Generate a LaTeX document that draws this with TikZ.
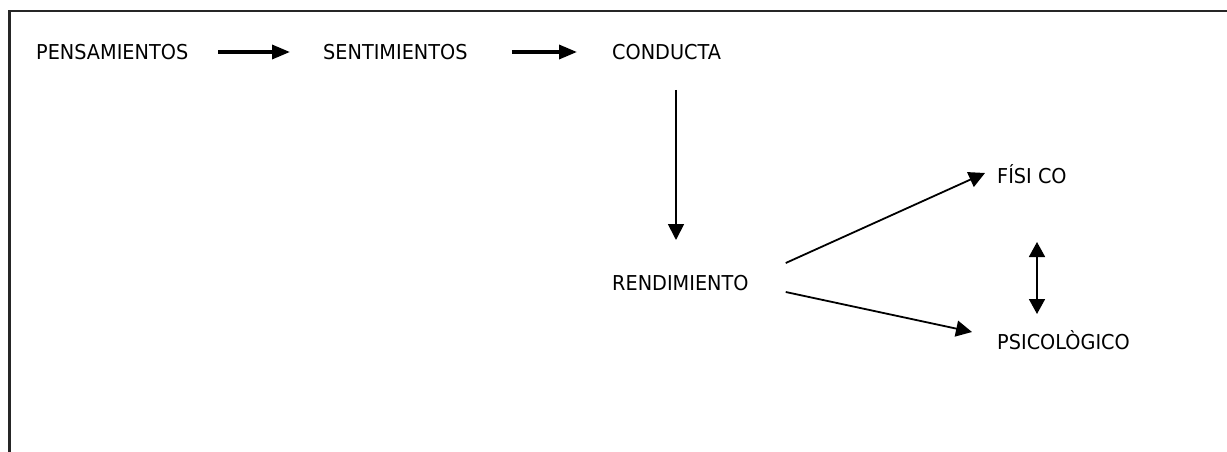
\documentclass[tikz,border=0pt]{standalone}
\usepackage{fontspec}
\setmainfont{DejaVu Sans}[FakeStretch=0.94]
\usetikzlibrary{arrows.meta}

\begin{document}
\begin{tikzpicture}[x=1pt,y=-1pt,
    concept/.style={anchor=base west, inner sep=0pt, font=\fontsize{20.5}{24}\selectfont},
    bigarrow/.style={line width=3.4pt, -{Triangle[length=18pt,width=14pt]}},
    thinarrow/.style={line width=1.8pt, -{Triangle[length=16pt,width=16pt]}}]

        \useasboundingbox (0,0) rectangle (1227,452);

        % frame, open at the bottom and on the right
        \draw[line width=2.2pt, black!85] (9.5,452) -- (9.5,11) -- (1227,11);

        % top row
        \node[concept] (pens) at (36,60) {PENSAMIENTOS};
        \node[concept] (sent) at (323,60) {SENTIMIENTOS};
        \node[concept] (cond) at (612,60) {CONDUCTA};

        \node[concept] (rend) at (612,290) {RENDIMIENTO};

        \node[concept] (fis) at (997,183) {FÍSI CO};
        \node[concept] (psic) at (997,349) {PSICOLÒGICO};

        \draw[bigarrow] ([shift={(30,-8)}]pens.base east) -- ([shift={(-33,-8)}]sent.base west);
        \draw[bigarrow] ([shift={(44,-8)}]sent.base east) -- ([shift={(-35,-8)}]cond.base west);

        \draw[thinarrow] ([shift={(64,30)}]cond.base west) -- ([shift={(64,-50)}]rend.base west);

        \draw[thinarrow] ([shift={(37,-27)}]rend.base east) -- ([shift={(-12,-10)}]fis.base west);
        \draw[thinarrow] ([shift={(37,2)}]rend.base east) -- ([shift={(-25,-17)}]psic.base west);

        \draw[thinarrow, {Triangle[length=15pt,width=16pt]}-{Triangle[length=15pt,width=16pt]}]
            ([shift={(40,59)}]fis.base west) -- ([shift={(40,-35)}]psic.base west);

\end{tikzpicture}
\end{document}
